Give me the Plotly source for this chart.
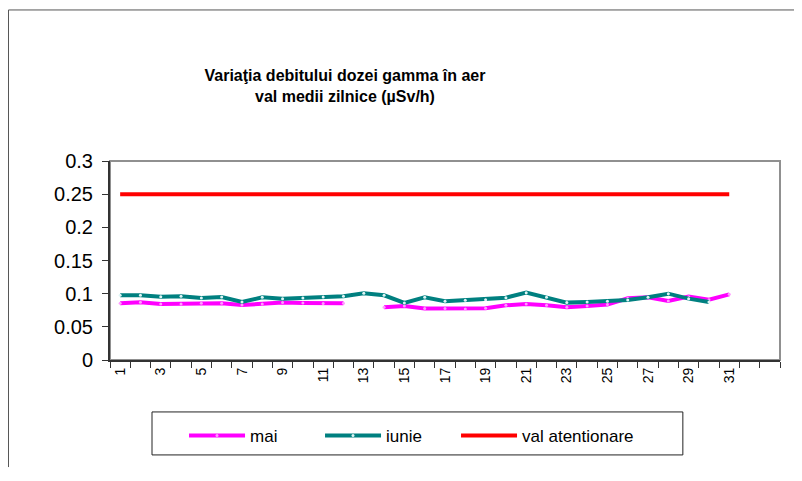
import plotly.graph_objects as go

days = list(range(1, 32))
mai = [0.0855, 0.087, 0.0845, 0.0845, 0.0855, 0.0855, 0.083, 0.0845, 0.0865, 0.086,
       0.085, 0.0855, None, 0.0795, 0.0815, 0.0775, 0.0775, 0.077, 0.078, 0.0825,
       0.0845, 0.0825, 0.0795, 0.0815, 0.0835, 0.093, 0.0945, 0.089, 0.0955, 0.091, 0.099]
iunie = [0.0975, 0.0975, 0.0955, 0.096, 0.0935, 0.095, 0.0875, 0.0945, 0.0925, 0.0935,
         0.095, 0.096, 0.1005, 0.0975, 0.086, 0.0945, 0.0885, 0.090, 0.091, 0.094,
         0.1015, 0.0945, 0.0865, 0.0875, 0.0885, 0.0905, 0.0945, 0.100, 0.0925, 0.0875]
val_atentionare = [0.25] * 31
n_categories = 33
tick_days = list(range(1, 32, 2))
tick_labels = [str(d) for d in tick_days]

fig = go.Figure()
fig.add_trace(go.Scatter(x=days, y=mai, name="mai", mode="lines+markers",
                         line=dict(color="#FF00FF", width=4),
                         marker=dict(symbol="circle", size=3, color="#ff9cff"),
                         connectgaps=False))
fig.add_trace(go.Scatter(x=days[:len(iunie)], y=iunie, name="iunie", mode="lines+markers",
                         line=dict(color="#008080", width=4),
                         marker=dict(symbol="circle", size=3, color="#dff5f5")))
fig.add_trace(go.Scatter(x=days, y=val_atentionare, name="val atentionare", mode="lines",
                         line=dict(color="#FF0000", width=4)))
# empty legend spacer so the last legend label is not clipped
fig.add_trace(go.Scatter(x=[None], y=[None], name="", mode="lines", showlegend=True,
                         line=dict(width=0, color="rgba(0,0,0,0)"), hoverinfo="skip"))

fig.update_layout(
    width=794, height=473,
    margin=dict(l=102, r=22, t=153, b=121, autoexpand=False),
    paper_bgcolor="white", plot_bgcolor="white",
    font=dict(family="Liberation Sans, Arial", color="black"),
    title=dict(text="<b>Variaţia debitului dozei gamma în aer<br>val medii zilnice (µSv/h)</b>",
               x=0.4244, xref="container", xanchor="center",
               y=0.8455, yref="container", yanchor="middle",
               font=dict(size=16, color="black")),
    showlegend=True,
    legend=dict(orientation="h", x=0.2217, xanchor="left", xref="container",
                y=0.095, yanchor="middle", yref="container",
                borderwidth=0, bgcolor="rgba(0,0,0,0)",
                font=dict(size=17), itemwidth=56,
                entrywidth=65, entrywidthmode="pixels"),
    xaxis=dict(range=[0.5, n_categories + 0.5], showgrid=False, zeroline=False,
               showline=True, linecolor="#333333", linewidth=2,
               tickmode="array", tickvals=tick_days, ticktext=tick_labels,
               ticks="", tickangle=-90, tickfont=dict(size=14),
               minor=dict(tickmode="linear", tick0=0.5, dtick=1, ticks="outside",
                          ticklen=6, tickcolor="#333333", tickwidth=1)),
    yaxis=dict(range=[0, 0.3], dtick=0.05, showgrid=False, zeroline=False,
               showline=True, linecolor="#333333", linewidth=2,
               ticks="outside", ticklen=6, tickcolor="#333333",
               ticklabelstandoff=5, tickfont=dict(size=20)),
)

# plot-area frame (grey), legend box and outer chart frame
fig.add_shape(type="rect", xref="paper", yref="paper", x0=0, x1=1, y0=0, y1=1,
              line=dict(color="#909090", width=2), layer="below")
fig.add_shape(type="rect", xref="paper", yref="paper", x0=0.0627, x1=0.855, y0=-0.477, y1=-0.261,
              line=dict(color="#222222", width=1))
fig.add_shape(type="line", xref="paper", yref="paper", x0=-0.1515, x1=1.1, y0=1.759, y1=1.759,
              line=dict(color="#555555", width=1))
fig.add_shape(type="line", xref="paper", yref="paper", x0=-0.1515, x1=-0.1515, y0=1.759, y1=-0.538,
              line=dict(color="#555555", width=1))

fig.write_html("out.html")
